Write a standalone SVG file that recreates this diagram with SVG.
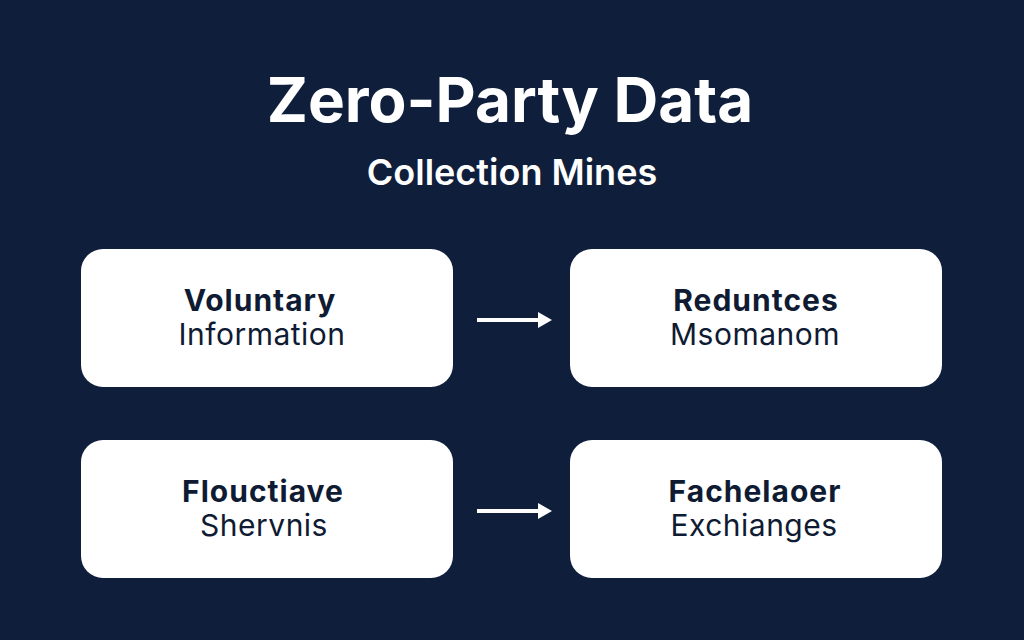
<svg xmlns="http://www.w3.org/2000/svg" width="1024" height="640" viewBox="0 0 1024 640">
<defs>
<style>
.bg{fill:#0f1e3b}
.box{fill:#ffffff}
.t1{font-family:Inter,"Liberation Sans",sans-serif;font-weight:700;font-size:30px;letter-spacing:1px;fill:#0f1b33;text-anchor:middle}
.t2{font-family:Inter,"Liberation Sans",sans-serif;font-weight:400;font-size:30px;letter-spacing:0.5px;fill:#0f1b33;text-anchor:middle}
.title{font-family:Inter,"Liberation Sans",sans-serif;font-weight:700;font-size:62px;fill:#ffffff;text-anchor:middle}
.sub{font-family:Inter,"Liberation Sans",sans-serif;font-weight:600;font-size:36px;fill:#ffffff;text-anchor:middle}
.conn{stroke:#ffffff;stroke-width:4;fill:none}
.head{fill:#ffffff}
</style>
</defs>
<rect class="bg" x="0" y="0" width="1024" height="640"/>
<text class="title" x="510" y="122">Zero-Party Data</text>
<text class="sub" x="512" y="185">Collection Mines</text>
<g id="node-voluntary">
<rect class="box" x="81" y="249" width="372" height="138" rx="22"/>
<text class="t1" x="260" y="311">Voluntary</text>
<text class="t2" x="262" y="345">Information</text>
</g>
<g id="node-reduntces">
<rect class="box" x="570" y="249" width="372" height="138" rx="22"/>
<text class="t1" x="756" y="311">Reduntces</text>
<text class="t2" x="755" y="345">Msomanom</text>
</g>
<g id="node-flouctiave">
<rect class="box" x="81" y="440" width="372" height="138" rx="22"/>
<text class="t1" x="263" y="502">Flouctiave</text>
<text class="t2" x="264" y="536">Shervnis</text>
</g>
<g id="node-fachelaoer">
<rect class="box" x="570" y="440" width="372" height="138" rx="22"/>
<text class="t1" x="755" y="502">Fachelaoer</text>
<text class="t2" x="754" y="536">Exchianges</text>
</g>
<g id="connectors">
<line class="conn" x1="477" y1="320" x2="540" y2="320"/>
<path class="head" d="M538,312 L552,320 L538,328 Z"/>
<line class="conn" x1="477" y1="511" x2="540" y2="511"/>
<path class="head" d="M538,503 L552,511 L538,519 Z"/>
</g>
</svg>
